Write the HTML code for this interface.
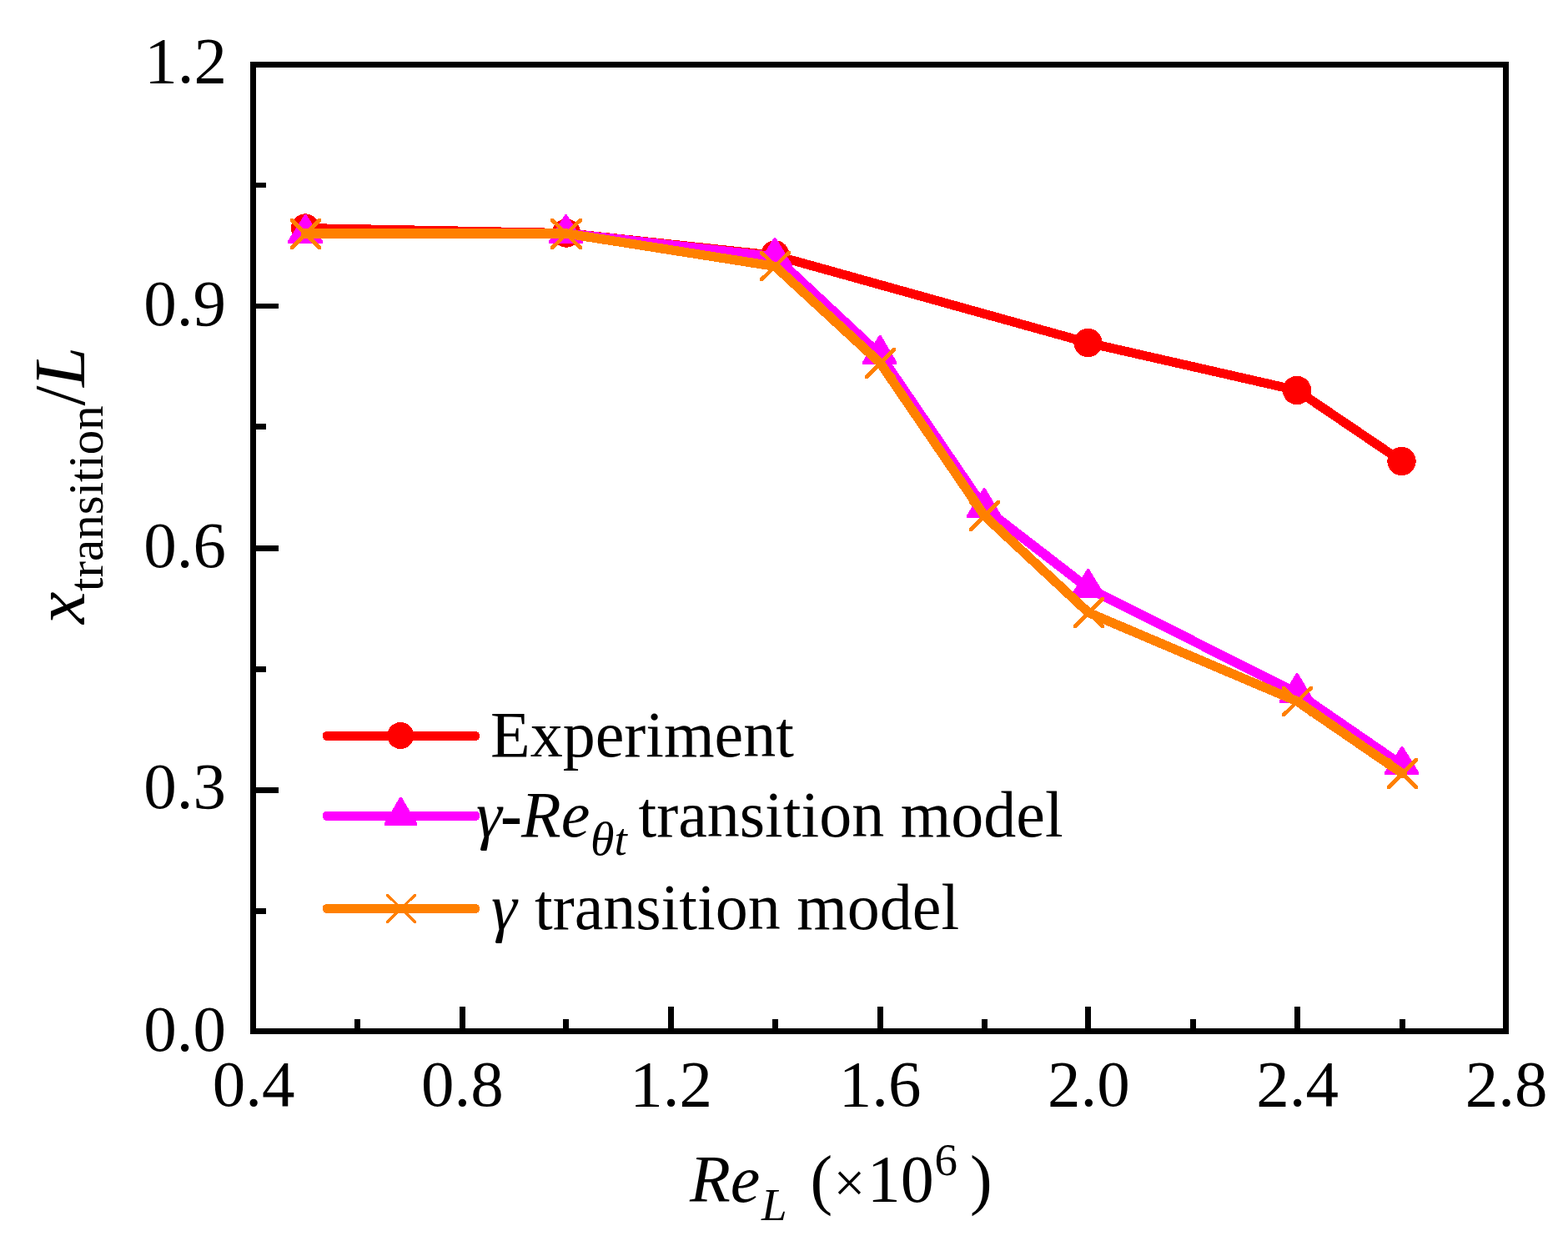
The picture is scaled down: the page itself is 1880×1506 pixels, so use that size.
<!DOCTYPE html>
<html lang="en"><head><meta charset="utf-8"><title>Transition location versus Reynolds number</title>
<style>html,body{margin:0;padding:0;background:#fff}body{width:1880px;height:1506px;overflow:hidden}svg{display:block}text{font-family:'Liberation Serif', serif;fill:#000}.i{font-style:italic}</style>
</head><body>
<svg width="1880" height="1506" viewBox="0 0 1880 1506" role="img" aria-label="Line chart of transition location x/L versus Reynolds number for experiment and two transition models">
<rect x="0" y="0" width="1880" height="1506" fill="#fff"/>
<g shape-rendering="crispEdges">
<line x1="366.0" y1="273.5" x2="679.0" y2="279.5" stroke="#ff0000" stroke-width="11.0" stroke-linecap="round"/><line x1="679.0" y1="279.5" x2="929.3" y2="306.3" stroke="#ff0000" stroke-width="11.0" stroke-linecap="round"/><line x1="929.3" y1="306.3" x2="1304.5" y2="411.0" stroke="#ff0000" stroke-width="11.0" stroke-linecap="round"/><line x1="1304.5" y1="411.0" x2="1555.0" y2="468.0" stroke="#ff0000" stroke-width="11.0" stroke-linecap="round"/><line x1="1555.0" y1="468.0" x2="1680.5" y2="553.0" stroke="#ff0000" stroke-width="11.0" stroke-linecap="round"/>
<circle cx="366.0" cy="273.5" r="17.2" fill="#ff0000"/>
<circle cx="679.0" cy="279.5" r="17.2" fill="#ff0000"/>
<circle cx="929.3" cy="305.5" r="17.2" fill="#ff0000"/>
<circle cx="1304.5" cy="411.0" r="17.2" fill="#ff0000"/>
<circle cx="1555.0" cy="468.0" r="17.2" fill="#ff0000"/>
<circle cx="1680.5" cy="553.0" r="17.2" fill="#ff0000"/>
<line x1="366.0" y1="280.0" x2="679.0" y2="280.0" stroke="#ff00ff" stroke-width="11.6" stroke-linecap="round"/><line x1="679.0" y1="280.0" x2="929.3" y2="308.0" stroke="#ff00ff" stroke-width="11.6" stroke-linecap="round"/><line x1="929.3" y1="308.0" x2="1055.0" y2="425.3" stroke="#ff00ff" stroke-width="11.6" stroke-linecap="round"/><line x1="1055.0" y1="425.3" x2="1180.3" y2="609.3" stroke="#ff00ff" stroke-width="11.6" stroke-linecap="round"/><line x1="1180.3" y1="609.3" x2="1304.8" y2="705.3" stroke="#ff00ff" stroke-width="11.6" stroke-linecap="round"/><line x1="1304.8" y1="705.3" x2="1555.3" y2="831.2" stroke="#ff00ff" stroke-width="11.6" stroke-linecap="round"/><line x1="1555.3" y1="831.2" x2="1681.0" y2="917.6" stroke="#ff00ff" stroke-width="11.6" stroke-linecap="round"/>
<polygon points="365.3,257.0 367.3,257.0 387.0,289.0 387.0,292.0 345.0,292.0 345.0,289.0" fill="#ff00ff"/>
<polygon points="677.5,257.0 679.5,257.0 699.0,289.0 699.0,292.0 658.0,292.0 658.0,289.0" fill="#ff00ff"/>
<polygon points="928.0,284.7 930.0,284.7 949.7,317.0 949.7,320.0 908.3,320.0 908.3,317.0" fill="#ff00ff"/>
<polygon points="1054.2,401.8 1056.2,401.8 1075.2,434.0 1075.2,437.0 1034.0,437.0 1034.0,434.0" fill="#ff00ff"/>
<polygon points="1179.2,585.0 1181.2,585.0 1200.6,618.0 1200.6,621.0 1159.0,621.0 1159.0,618.0" fill="#ff00ff"/>
<polygon points="1303.6,682.0 1305.6,682.0 1325.2,714.0 1325.2,717.0 1283.6,717.0 1283.6,714.0" fill="#ff00ff"/>
<polygon points="1554.2,807.0 1556.2,807.0 1575.6,840.0 1575.6,843.0 1534.0,843.0 1534.0,840.0" fill="#ff00ff"/>
<polygon points="1680.0,895.0 1682.0,895.0 1701.3,926.0 1701.3,929.0 1660.0,929.0 1660.0,926.0" fill="#ff00ff"/>
<line x1="366.5" y1="280.0" x2="679.0" y2="280.0" stroke="#ff8000" stroke-width="12.0" stroke-linecap="round"/><line x1="679.0" y1="280.0" x2="929.5" y2="319.4" stroke="#ff8000" stroke-width="11.2" stroke-linecap="round"/><line x1="929.5" y1="319.4" x2="1055.5" y2="435.4" stroke="#ff8000" stroke-width="11.2" stroke-linecap="round"/><line x1="1055.5" y1="435.4" x2="1180.5" y2="618.5" stroke="#ff8000" stroke-width="11.2" stroke-linecap="round"/><line x1="1180.5" y1="618.5" x2="1305.0" y2="734.5" stroke="#ff8000" stroke-width="11.2" stroke-linecap="round"/><line x1="1305.0" y1="734.5" x2="1555.5" y2="841.0" stroke="#ff8000" stroke-width="11.2" stroke-linecap="round"/><line x1="1555.5" y1="841.0" x2="1681.5" y2="927.5" stroke="#ff8000" stroke-width="11.2" stroke-linecap="round"/>
<polygon points="348.0,262.0 351.2,262.0 385.0,295.8 385.0,299.0 381.8,299.0 348.0,265.2" fill="#ff8000"/><polygon points="385.0,262.0 385.0,265.2 351.2,299.0 348.0,299.0 348.0,295.8 381.8,262.0" fill="#ff8000"/>
<polygon points="660.0,262.0 663.2,262.0 698.0,295.9 698.0,299.0 694.8,299.0 660.0,265.1" fill="#ff8000"/><polygon points="698.0,262.0 698.0,265.1 663.2,299.0 660.0,299.0 660.0,295.9 694.8,262.0" fill="#ff8000"/>
<polygon points="911.0,301.0 914.2,301.0 948.0,333.9 948.0,337.0 944.8,337.0 911.0,304.1" fill="#ff8000"/><polygon points="948.0,301.0 948.0,304.1 914.2,337.0 911.0,337.0 911.0,333.9 944.8,301.0" fill="#ff8000"/>
<polygon points="1037.0,417.0 1040.2,417.0 1074.0,450.8 1074.0,454.0 1070.8,454.0 1037.0,420.2" fill="#ff8000"/><polygon points="1074.0,417.0 1074.0,420.2 1040.2,454.0 1037.0,454.0 1037.0,450.8 1070.8,417.0" fill="#ff8000"/>
<polygon points="1162.0,600.0 1165.2,600.0 1199.0,633.8 1199.0,637.0 1195.8,637.0 1162.0,603.2" fill="#ff8000"/><polygon points="1199.0,600.0 1199.0,603.2 1165.2,637.0 1162.0,637.0 1162.0,633.8 1195.8,600.0" fill="#ff8000"/>
<polygon points="1287.0,716.0 1290.2,716.0 1324.0,749.8 1324.0,753.0 1320.8,753.0 1287.0,719.2" fill="#ff8000"/><polygon points="1324.0,716.0 1324.0,719.2 1290.2,753.0 1287.0,753.0 1287.0,749.8 1320.8,716.0" fill="#ff8000"/>
<polygon points="1537.0,823.0 1540.2,823.0 1574.0,855.9 1574.0,859.0 1570.8,859.0 1537.0,826.1" fill="#ff8000"/><polygon points="1574.0,823.0 1574.0,826.1 1540.2,859.0 1537.0,859.0 1537.0,855.9 1570.8,823.0" fill="#ff8000"/>
<polygon points="1663.0,909.0 1666.2,909.0 1700.0,942.8 1700.0,946.0 1696.8,946.0 1663.0,912.2" fill="#ff8000"/><polygon points="1700.0,909.0 1700.0,912.2 1666.2,946.0 1663.0,946.0 1663.0,942.8 1696.8,909.0" fill="#ff8000"/>
<rect x="387" y="877.0" width="188" height="11" rx="4.5" ry="4.5" fill="#ff0000"/>
<circle cx="480.3" cy="882.0" r="16.0" fill="#ff0000"/>
<rect x="387" y="972.8" width="188" height="11" rx="4.5" ry="4.5" fill="#ff00ff"/>
<polygon points="479.5,955.8 481.5,955.8 500.0,986.8 500.0,989.8 461.0,989.8 461.0,986.8" fill="#ff00ff"/>
<rect x="387" y="1084.0" width="188" height="11" rx="4.5" ry="4.5" fill="#ff8000"/>
<polygon points="463.0,1071.9 465.4,1071.9 499.0,1104.4 499.0,1106.7 496.6,1106.7 463.0,1074.2" fill="#ff8000"/><polygon points="499.0,1071.9 499.0,1074.2 465.4,1106.7 463.0,1106.7 463.0,1104.4 496.6,1071.9" fill="#ff8000"/>
<rect x="303.5" y="77.5" width="1502.0" height="1159.0" fill="none" stroke="#000" stroke-width="7"/>
<rect x="425" y="1222" width="7" height="12" fill="#000"/>
<rect x="551" y="1207" width="7" height="27" fill="#000"/>
<rect x="675" y="1222" width="7" height="12" fill="#000"/>
<rect x="801" y="1207" width="7" height="27" fill="#000"/>
<rect x="926" y="1222" width="7" height="12" fill="#000"/>
<rect x="1052" y="1207" width="7" height="27" fill="#000"/>
<rect x="1177" y="1222" width="7" height="12" fill="#000"/>
<rect x="1301" y="1207" width="7" height="27" fill="#000"/>
<rect x="1427" y="1222" width="7" height="12" fill="#000"/>
<rect x="1552" y="1207" width="7" height="27" fill="#000"/>
<rect x="1678" y="1222" width="7" height="12" fill="#000"/>
<rect x="306" y="1089" width="13" height="7" fill="#000"/>
<rect x="306" y="944" width="28" height="7" fill="#000"/>
<rect x="306" y="799" width="13" height="7" fill="#000"/>
<rect x="306" y="654" width="28" height="7" fill="#000"/>
<rect x="306" y="508" width="13" height="7" fill="#000"/>
<rect x="306" y="364" width="28" height="6" fill="#000"/>
<rect x="306" y="219" width="13" height="6" fill="#000"/>
</g>
<g font-size="79.0">
<text x="304.0" y="1326" text-anchor="middle">0.4</text>
<text x="554.3" y="1326" text-anchor="middle">0.8</text>
<text x="804.7" y="1326" text-anchor="middle">1.2</text>
<text x="1055.0" y="1326" text-anchor="middle">1.6</text>
<text x="1305.3" y="1326" text-anchor="middle">2.0</text>
<text x="1555.7" y="1326" text-anchor="middle">2.4</text>
<text x="1806.0" y="1326" text-anchor="middle">2.8</text>
<text x="271" y="1260.0" text-anchor="end">0.0</text>
<text x="271" y="969.0" text-anchor="end">0.3</text>
<text x="271" y="680.3" text-anchor="end">0.6</text>
<text x="271" y="389.8" text-anchor="end">0.9</text>
<text x="272" y="99.0" text-anchor="end">1.2</text>
</g>
<text y="1440.7" font-size="80.0"><tspan x="827" class="i">Re</tspan><tspan x="913" dy="22.3" font-size="55.0" class="i">L</tspan><tspan x="971.5" dy="-22.3">(</tspan><tspan x="999.6" font-size="67">×</tspan><tspan x="1039.7">10</tspan><tspan x="1120.5" dy="-32" font-size="55.0">6</tspan><tspan x="1163" dy="32">)</tspan></text>
<g transform="translate(100.6,748) rotate(-90)"><text y="0" font-size="86.5"><tspan x="0" class="i">x</tspan><tspan x="39" dy="22.3" font-size="59.0">transition</tspan><tspan x="261.5" dy="-22.3">/</tspan><tspan x="284" class="i">L</tspan></text></g>
<text x="588" y="907" font-size="78.0">Experiment</text>
<text y="1002.7" font-size="78.0"><tspan x="571" class="i">γ</tspan><tspan x="600" font-weight="bold">-</tspan><tspan x="625" class="i">Re</tspan><tspan x="708" dy="22" font-size="58.0" class="i">θ</tspan><tspan x="736.5" font-size="55.0" class="i">t</tspan><tspan x="765.5" dy="-22">transition model</tspan></text>
<text y="1113.5" font-size="78.0"><tspan x="589" class="i">γ</tspan><tspan x="641">transition model</tspan></text>
</svg></body></html>
